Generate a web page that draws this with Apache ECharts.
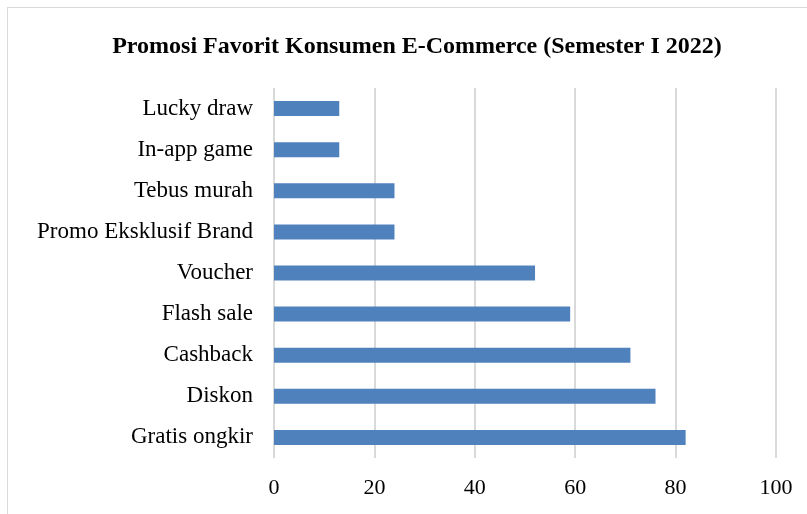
<!DOCTYPE html>
<html>
<head>
<meta charset="utf-8">
<script src="https://cdn.jsdelivr.net/npm/echarts@6/dist/echarts.min.js"></script>
<style>
  html, body { margin: 0; padding: 0; background: #fff; }
  #frame { position: absolute; left: 7px; top: 7px; width: 820px; height: 530px; border: 1px solid #d9d9d9; box-sizing: border-box; }
  #chart { position: absolute; left: 0; top: 0; width: 807px; height: 514px; }
</style>
</head>
<body>
<div id="frame"></div>
<div id="chart"></div>
<script>
// kategori dari atas ke bawah
const categories = ['Lucky draw', 'In-app game', 'Tebus murah', 'Promo Eksklusif Brand', 'Voucher', 'Flash sale', 'Cashback', 'Diskon', 'Gratis ongkir']
const values = [13, 13, 24, 24, 52, 59, 71, 76, 82]
const xTicks = [0, 20, 40, 60, 80, 100]

const serif = '"Liberation Serif", "Times New Roman", serif'
const chart = echarts.init(document.getElementById('chart'), null, { renderer: 'canvas' })

chart.setOption({
  animation: false,
  title: {
    text: 'Promosi Favorit Konsumen E-Commerce (Semester I 2022)',
    left: 412, top: 30, textAlign: 'center',
    textStyle: { fontFamily: serif, fontSize: 24, fontWeight: 'bold', color: '#000' }
  },
  grid: { left: 274, right: 31, top: 88, bottom: 56, containLabel: false },
  xAxis: {
    type: 'value',
    min: xTicks[0], max: xTicks[xTicks.length - 1], interval: 20,
    axisLine: { show: false }, axisTick: { show: false },
    splitLine: { show: true, lineStyle: { color: '#d9d9d9', width: 2 } },
    axisLabel: { margin: 19, fontFamily: serif, fontSize: 22, color: '#000' }
  },
  yAxis: {
    type: 'category', data: categories, inverse: true,
    axisLine: { show: false }, axisTick: { show: false },
    axisLabel: { margin: 21, fontFamily: serif, fontSize: 23, color: '#000' }
  },
  series: [{
    type: 'bar', data: values, barWidth: 15,
    itemStyle: { color: '#4f81bd' }
  }]
})
</script>
</body>
</html>
